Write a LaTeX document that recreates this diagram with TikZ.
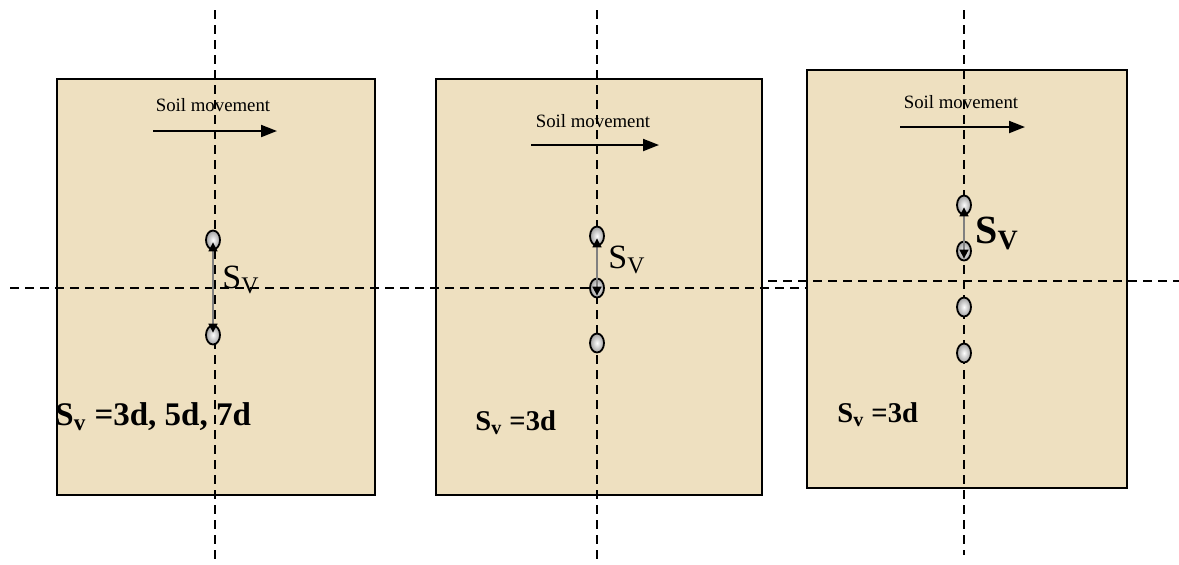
\documentclass[tikz,border=0pt]{standalone}
\usepackage{fontspec}
\setmainfont{Liberation Serif}
\usetikzlibrary{arrows.meta,shapes.geometric}
\definecolor{soil}{RGB}{238,224,192}
\tikzset{
	soilbox/.style = {draw = black, line width = 1pt, fill = soil},
	axisline/.style = {line width = 0.9pt, dash pattern = on 4.5pt off 3pt},
	pile/.style = {ellipse, draw = black, line width = 0.9pt, minimum width = 7pt, minimum height = 9.5pt, inner sep = 0pt, shading = radial, inner color = white, outer color = gray!75},
	movetext/.style = {font = \fontsize{9.4}{11}\selectfont, anchor = base},
	movearrow/.style = {line width = 1pt, -{Triangle[length = 8pt, width = 6pt]}},
	spacing/.style = {draw = gray, line width = 0.8pt, {Triangle[length = 4.5pt, width = 4.5pt, color = black]}-{Triangle[length = 4.5pt, width = 4.5pt, color = black]}},
	svtext/.style = {font = \fontsize{17}{20}\selectfont, anchor = base west, inner sep = 0pt},
	svcase/.style = {font = \bfseries\fontsize{16.5}{20}\selectfont, anchor = base west, inner sep = 0pt}
}
\begin{document}
\begin{tikzpicture} [x = 0.5pt, y = -0.5pt]
	\useasboundingbox (0,0) rectangle (1179,564);
	% soil blocks
	\draw [soilbox] (57,79) rectangle (375,495);
	\draw [soilbox] (436,79) rectangle (762,495);
	\draw [soilbox] (807,70) rectangle (1127,488);
	% axes
	\coordinate (v1a) at (215,10);  \coordinate (v1b) at (215,562);
	\coordinate (v2a) at (597,10);  \coordinate (v2b) at (597,562);
	\coordinate (v3a) at (964,10);  \coordinate (v3b) at (964,555);
	\coordinate (h1a) at (10,288);  \coordinate (h1b) at (807,288);
	\coordinate (h2a) at (768,281); \coordinate (h2b) at (1179,281);
	\draw [axisline] (v1a) -- (v1b);
	\draw [axisline] (v2a) -- (v2b);
	\draw [axisline] (v3a) -- (v3b);
	\draw [axisline] (h1a) -- (h1b);
	\draw [axisline] (h2a) -- (h2b);
	% soil movement
	\node [movetext] (m1) at (213,111) {Soil movement};
	\node [movetext] (m2) at (593,127) {Soil movement};
	\node [movetext] (m3) at (961,108) {Soil movement};
	\coordinate (m1a) at (153,131); \coordinate (m1b) at (277,131);
	\coordinate (m2a) at (531,145); \coordinate (m2b) at (659,145);
	\coordinate (m3a) at (900,127); \coordinate (m3b) at (1025,127);
	\draw [movearrow] (m1a) -- (m1b);
	\draw [movearrow] (m2a) -- (m2b);
	\draw [movearrow] (m3a) -- (m3b);
	% piles
	\node [pile] (p1a) at (213,240) {};
	\node [pile] (p1b) at (213,335) {};
	\node [pile] (p2a) at (597,236) {};
	\node [pile] (p2b) at (597,288) {};
	\node [pile] (p2c) at (597,343) {};
	\node [pile] (p3a) at (964,205) {};
	\node [pile] (p3b) at (964,251) {};
	\node [pile] (p3c) at (964,307) {};
	\node [pile] (p3d) at (964,353) {};
	\draw [spacing, shorten < = -4pt, shorten > = -4pt] (p1a) -- (p1b);
	\draw [spacing, shorten < = -4pt, shorten > = -9pt] (p2a) -- (p2b);
	\draw [spacing, shorten < = -4pt, shorten > = -9pt] (p3a) -- (p3b);
	\node [svtext] (s1) at (222,288) {S\textsubscript{V}};
	\node [svtext] (s2) at (608,268) {S\textsubscript{V}};
	\node [svtext, font = \bfseries\fontsize{20}{24}\selectfont] (s3) at (975,243) {S\textsubscript{V}};
	% cases
	\node [svcase] (c1) at (55,425) {S\textsubscript{v} =3d, 5d, 7d};
	\node [svcase, font = \bfseries\fontsize{14.3}{17}\selectfont] (c2) at (475,430) {S\textsubscript{v} =3d};
	\node [svcase, font = \bfseries\fontsize{14.3}{17}\selectfont] (c3) at (837,422) {S\textsubscript{v} =3d};
\end{tikzpicture}
\end{document}
